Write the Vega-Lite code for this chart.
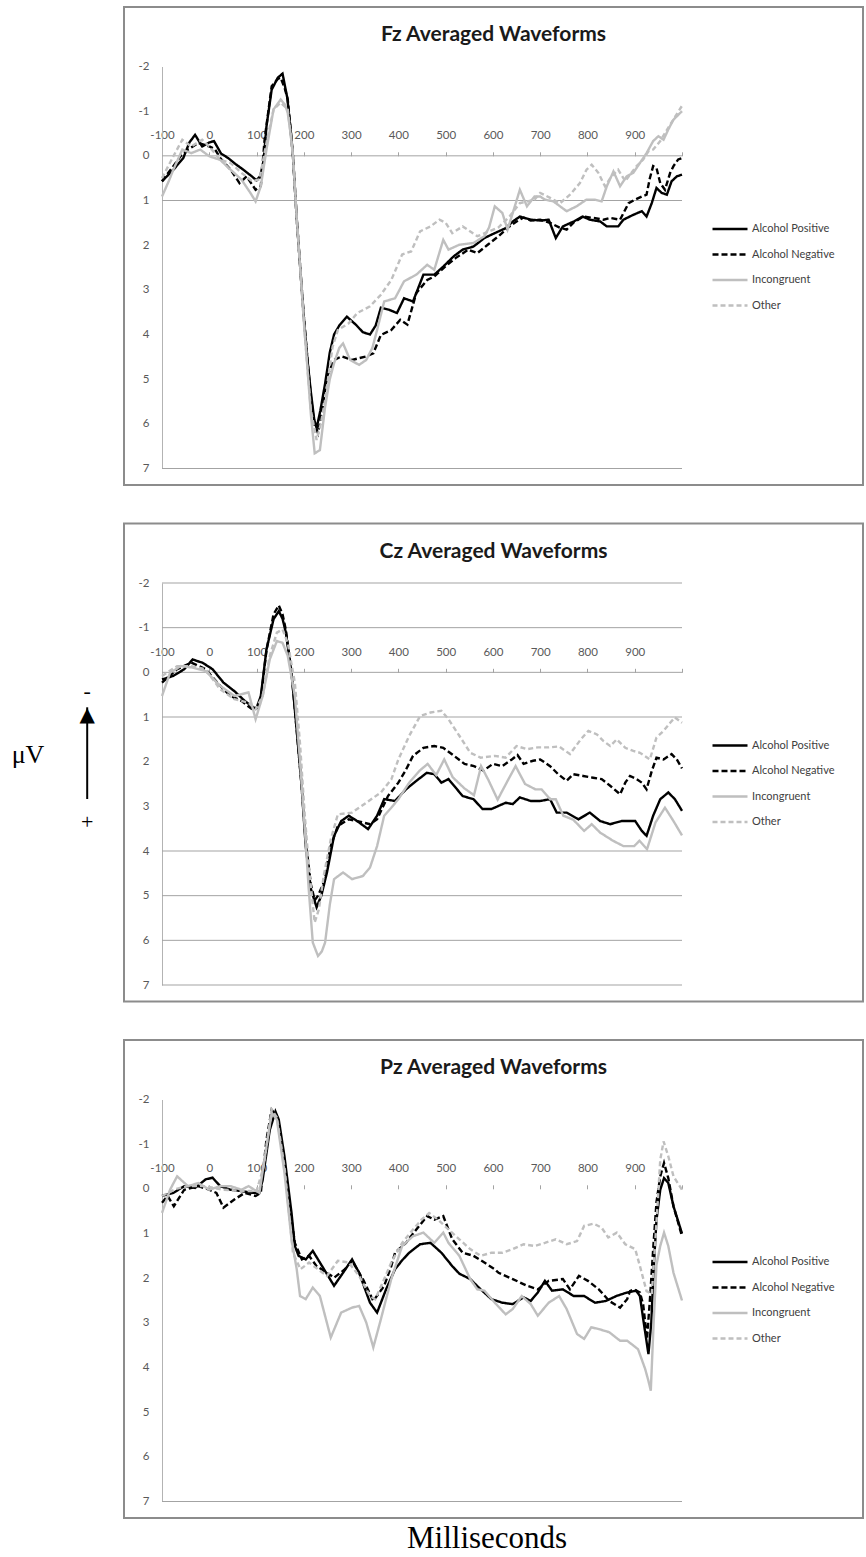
{
  "$schema": "https://vega.github.io/schema/vega-lite/v6.json",
  "background": "white",
  "padding": {"left": 10, "top": 6, "right": 0, "bottom": 0},
  "title": {"text": "Milliseconds", "orient": "bottom", "anchor": "middle", "dx": 50, "offset": 29, "baseline": "alphabetic", "font": "Liberation Serif", "fontSize": 31, "fontWeight": "normal", "color": "#000000"},
  "datasets": {
    "fzGrid": [{"uv": 0}, {"uv": 1}, {"uv": 7}],
    "czGrid": [{"uv": -2}, {"uv": -1}, {"uv": 0}, {"uv": 1}, {"uv": 4}, {"uv": 5}, {"uv": 6}, {"uv": 7}],
    "pzGrid": [{"uv": 7}],
    "arrow": [{"end": 0}, {"end": 1}],
    "fz": [
      {"condition":"Alcohol Positive","ms":-100,"uv":0.57},{"condition":"Alcohol Positive","ms":-75,"uv":0.3},{"condition":"Alcohol Positive","ms":-55,"uv":0.05},{"condition":"Alcohol Positive","ms":-42,"uv":-0.3},{"condition":"Alcohol Positive","ms":-30,"uv":-0.47},{"condition":"Alcohol Positive","ms":-15,"uv":-0.21},{"condition":"Alcohol Positive","ms":0,"uv":-0.3},{"condition":"Alcohol Positive","ms":10,"uv":-0.33},{"condition":"Alcohol Positive","ms":25,"uv":-0.05},{"condition":"Alcohol Positive","ms":40,"uv":0.05},{"condition":"Alcohol Positive","ms":55,"uv":0.18},{"condition":"Alcohol Positive","ms":72,"uv":0.31},{"condition":"Alcohol Positive","ms":90,"uv":0.46},{"condition":"Alcohol Positive","ms":100,"uv":0.55},{"condition":"Alcohol Positive","ms":108,"uv":0.45},{"condition":"Alcohol Positive","ms":115,"uv":0.1},{"condition":"Alcohol Positive","ms":121,"uv":-0.66},{"condition":"Alcohol Positive","ms":132,"uv":-1.48},{"condition":"Alcohol Positive","ms":145,"uv":-1.75},{"condition":"Alcohol Positive","ms":155,"uv":-1.84},{"condition":"Alcohol Positive","ms":165,"uv":-1.3},{"condition":"Alcohol Positive","ms":172,"uv":-0.6},{"condition":"Alcohol Positive","ms":177,"uv":0},{"condition":"Alcohol Positive","ms":185,"uv":1.4},{"condition":"Alcohol Positive","ms":193,"uv":2.6},{"condition":"Alcohol Positive","ms":200,"uv":3.6},{"condition":"Alcohol Positive","ms":208,"uv":4.6},{"condition":"Alcohol Positive","ms":215,"uv":5.3},{"condition":"Alcohol Positive","ms":222,"uv":5.9},{"condition":"Alcohol Positive","ms":227,"uv":6.1},{"condition":"Alcohol Positive","ms":235,"uv":5.7},{"condition":"Alcohol Positive","ms":245,"uv":5.1},{"condition":"Alcohol Positive","ms":255,"uv":4.4},{"condition":"Alcohol Positive","ms":264,"uv":4.0},{"condition":"Alcohol Positive","ms":275,"uv":3.8},{"condition":"Alcohol Positive","ms":291,"uv":3.6},{"condition":"Alcohol Positive","ms":310,"uv":3.78},{"condition":"Alcohol Positive","ms":325,"uv":3.95},{"condition":"Alcohol Positive","ms":340,"uv":4.0},{"condition":"Alcohol Positive","ms":352,"uv":3.8},{"condition":"Alcohol Positive","ms":363,"uv":3.4},{"condition":"Alcohol Positive","ms":381,"uv":3.45},{"condition":"Alcohol Positive","ms":397,"uv":3.52},{"condition":"Alcohol Positive","ms":412,"uv":3.19},{"condition":"Alcohol Positive","ms":431,"uv":3.26},{"condition":"Alcohol Positive","ms":453,"uv":2.66},{"condition":"Alcohol Positive","ms":476,"uv":2.66},{"condition":"Alcohol Positive","ms":495,"uv":2.48},{"condition":"Alcohol Positive","ms":517,"uv":2.25},{"condition":"Alcohol Positive","ms":536,"uv":2.1},{"condition":"Alcohol Positive","ms":559,"uv":2.03},{"condition":"Alcohol Positive","ms":582,"uv":1.84},{"condition":"Alcohol Positive","ms":604,"uv":1.73},{"condition":"Alcohol Positive","ms":627,"uv":1.62},{"condition":"Alcohol Positive","ms":642,"uv":1.47},{"condition":"Alcohol Positive","ms":657,"uv":1.36},{"condition":"Alcohol Positive","ms":680,"uv":1.43},{"condition":"Alcohol Positive","ms":703,"uv":1.45},{"condition":"Alcohol Positive","ms":718,"uv":1.43},{"condition":"Alcohol Positive","ms":733,"uv":1.84},{"condition":"Alcohol Positive","ms":748,"uv":1.58},{"condition":"Alcohol Positive","ms":771,"uv":1.47},{"condition":"Alcohol Positive","ms":790,"uv":1.36},{"condition":"Alcohol Positive","ms":805,"uv":1.43},{"condition":"Alcohol Positive","ms":827,"uv":1.47},{"condition":"Alcohol Positive","ms":841,"uv":1.58},{"condition":"Alcohol Positive","ms":865,"uv":1.58},{"condition":"Alcohol Positive","ms":876,"uv":1.43},{"condition":"Alcohol Positive","ms":897,"uv":1.32},{"condition":"Alcohol Positive","ms":915,"uv":1.24},{"condition":"Alcohol Positive","ms":925,"uv":1.36},{"condition":"Alcohol Positive","ms":936,"uv":1.06},{"condition":"Alcohol Positive","ms":946,"uv":0.72},{"condition":"Alcohol Positive","ms":957,"uv":0.83},{"condition":"Alcohol Positive","ms":968,"uv":0.87},{"condition":"Alcohol Positive","ms":978,"uv":0.57},{"condition":"Alcohol Positive","ms":989,"uv":0.46},{"condition":"Alcohol Positive","ms":1000,"uv":0.42},
      {"condition":"Alcohol Negative","ms":-100,"uv":0.57},{"condition":"Alcohol Negative","ms":-76,"uv":0.23},{"condition":"Alcohol Negative","ms":-60,"uv":0.0},{"condition":"Alcohol Negative","ms":-45,"uv":-0.14},{"condition":"Alcohol Negative","ms":-23,"uv":-0.29},{"condition":"Alcohol Negative","ms":0,"uv":-0.21},{"condition":"Alcohol Negative","ms":12,"uv":-0.15},{"condition":"Alcohol Negative","ms":23,"uv":0.05},{"condition":"Alcohol Negative","ms":45,"uv":0.31},{"condition":"Alcohol Negative","ms":64,"uv":0.61},{"condition":"Alcohol Negative","ms":79,"uv":0.46},{"condition":"Alcohol Negative","ms":98,"uv":0.76},{"condition":"Alcohol Negative","ms":109,"uv":0.68},{"condition":"Alcohol Negative","ms":117,"uv":-0.36},{"condition":"Alcohol Negative","ms":132,"uv":-1.56},{"condition":"Alcohol Negative","ms":145,"uv":-1.72},{"condition":"Alcohol Negative","ms":151,"uv":-1.75},{"condition":"Alcohol Negative","ms":160,"uv":-1.5},{"condition":"Alcohol Negative","ms":166,"uv":-1.26},{"condition":"Alcohol Negative","ms":172,"uv":-0.6},{"condition":"Alcohol Negative","ms":177,"uv":0},{"condition":"Alcohol Negative","ms":185,"uv":1.4},{"condition":"Alcohol Negative","ms":193,"uv":2.6},{"condition":"Alcohol Negative","ms":200,"uv":3.6},{"condition":"Alcohol Negative","ms":208,"uv":4.6},{"condition":"Alcohol Negative","ms":215,"uv":5.4},{"condition":"Alcohol Negative","ms":222,"uv":6.0},{"condition":"Alcohol Negative","ms":230,"uv":6.21},{"condition":"Alcohol Negative","ms":240,"uv":5.6},{"condition":"Alcohol Negative","ms":249,"uv":4.94},{"condition":"Alcohol Negative","ms":264,"uv":4.57},{"condition":"Alcohol Negative","ms":280,"uv":4.49},{"condition":"Alcohol Negative","ms":302,"uv":4.57},{"condition":"Alcohol Negative","ms":332,"uv":4.49},{"condition":"Alcohol Negative","ms":347,"uv":4.42},{"condition":"Alcohol Negative","ms":363,"uv":4.01},{"condition":"Alcohol Negative","ms":385,"uv":3.9},{"condition":"Alcohol Negative","ms":404,"uv":3.67},{"condition":"Alcohol Negative","ms":419,"uv":3.78},{"condition":"Alcohol Negative","ms":438,"uv":3.07},{"condition":"Alcohol Negative","ms":461,"uv":2.78},{"condition":"Alcohol Negative","ms":476,"uv":2.7},{"condition":"Alcohol Negative","ms":499,"uv":2.48},{"condition":"Alcohol Negative","ms":521,"uv":2.29},{"condition":"Alcohol Negative","ms":548,"uv":2.1},{"condition":"Alcohol Negative","ms":567,"uv":2.18},{"condition":"Alcohol Negative","ms":589,"uv":1.99},{"condition":"Alcohol Negative","ms":612,"uv":1.8},{"condition":"Alcohol Negative","ms":635,"uv":1.58},{"condition":"Alcohol Negative","ms":650,"uv":1.47},{"condition":"Alcohol Negative","ms":665,"uv":1.38},{"condition":"Alcohol Negative","ms":680,"uv":1.45},{"condition":"Alcohol Negative","ms":700,"uv":1.43},{"condition":"Alcohol Negative","ms":721,"uv":1.5},{"condition":"Alcohol Negative","ms":740,"uv":1.6},{"condition":"Alcohol Negative","ms":756,"uv":1.65},{"condition":"Alcohol Negative","ms":770,"uv":1.5},{"condition":"Alcohol Negative","ms":791,"uv":1.36},{"condition":"Alcohol Negative","ms":812,"uv":1.39},{"condition":"Alcohol Negative","ms":834,"uv":1.43},{"condition":"Alcohol Negative","ms":848,"uv":1.39},{"condition":"Alcohol Negative","ms":869,"uv":1.43},{"condition":"Alcohol Negative","ms":887,"uv":1.06},{"condition":"Alcohol Negative","ms":901,"uv":0.98},{"condition":"Alcohol Negative","ms":915,"uv":0.91},{"condition":"Alcohol Negative","ms":925,"uv":0.87},{"condition":"Alcohol Negative","ms":932,"uv":0.5},{"condition":"Alcohol Negative","ms":939,"uv":0.23},{"condition":"Alcohol Negative","ms":946,"uv":0.27},{"condition":"Alcohol Negative","ms":954,"uv":0.61},{"condition":"Alcohol Negative","ms":964,"uv":0.76},{"condition":"Alcohol Negative","ms":975,"uv":0.38},{"condition":"Alcohol Negative","ms":982,"uv":0.23},{"condition":"Alcohol Negative","ms":992,"uv":0.08},{"condition":"Alcohol Negative","ms":1000,"uv":0.05},
      {"condition":"Incongruent","ms":-100,"uv":0.91},{"condition":"Incongruent","ms":-85,"uv":0.55},{"condition":"Incongruent","ms":-76,"uv":0.31},{"condition":"Incongruent","ms":-57,"uv":-0.14},{"condition":"Incongruent","ms":-38,"uv":-0.06},{"condition":"Incongruent","ms":-19,"uv":-0.14},{"condition":"Incongruent","ms":0,"uv":0.01},{"condition":"Incongruent","ms":23,"uv":0.09},{"condition":"Incongruent","ms":45,"uv":0.31},{"condition":"Incongruent","ms":68,"uv":0.53},{"condition":"Incongruent","ms":87,"uv":0.83},{"condition":"Incongruent","ms":98,"uv":1.02},{"condition":"Incongruent","ms":109,"uv":0.68},{"condition":"Incongruent","ms":121,"uv":-0.14},{"condition":"Incongruent","ms":136,"uv":-1.04},{"condition":"Incongruent","ms":151,"uv":-1.26},{"condition":"Incongruent","ms":160,"uv":-1.15},{"condition":"Incongruent","ms":166,"uv":-0.96},{"condition":"Incongruent","ms":172,"uv":-0.5},{"condition":"Incongruent","ms":177,"uv":0},{"condition":"Incongruent","ms":185,"uv":1.4},{"condition":"Incongruent","ms":193,"uv":2.6},{"condition":"Incongruent","ms":200,"uv":3.7},{"condition":"Incongruent","ms":208,"uv":4.8},{"condition":"Incongruent","ms":215,"uv":5.8},{"condition":"Incongruent","ms":223,"uv":6.66},{"condition":"Incongruent","ms":234,"uv":6.59},{"condition":"Incongruent","ms":245,"uv":5.62},{"condition":"Incongruent","ms":255,"uv":5.0},{"condition":"Incongruent","ms":264,"uv":4.64},{"condition":"Incongruent","ms":275,"uv":4.3},{"condition":"Incongruent","ms":283,"uv":4.2},{"condition":"Incongruent","ms":298,"uv":4.57},{"condition":"Incongruent","ms":317,"uv":4.68},{"condition":"Incongruent","ms":332,"uv":4.57},{"condition":"Incongruent","ms":345,"uv":4.3},{"condition":"Incongruent","ms":355,"uv":3.9},{"condition":"Incongruent","ms":370,"uv":3.26},{"condition":"Incongruent","ms":393,"uv":3.19},{"condition":"Incongruent","ms":412,"uv":2.81},{"condition":"Incongruent","ms":438,"uv":2.66},{"condition":"Incongruent","ms":461,"uv":2.44},{"condition":"Incongruent","ms":476,"uv":2.55},{"condition":"Incongruent","ms":495,"uv":1.88},{"condition":"Incongruent","ms":506,"uv":2.1},{"condition":"Incongruent","ms":529,"uv":1.99},{"condition":"Incongruent","ms":559,"uv":1.95},{"condition":"Incongruent","ms":582,"uv":1.8},{"condition":"Incongruent","ms":592,"uv":1.6},{"condition":"Incongruent","ms":604,"uv":1.13},{"condition":"Incongruent","ms":620,"uv":1.28},{"condition":"Incongruent","ms":631,"uv":1.65},{"condition":"Incongruent","ms":642,"uv":1.28},{"condition":"Incongruent","ms":657,"uv":0.76},{"condition":"Incongruent","ms":672,"uv":1.13},{"condition":"Incongruent","ms":688,"uv":0.91},{"condition":"Incongruent","ms":700,"uv":0.91},{"condition":"Incongruent","ms":710,"uv":0.98},{"condition":"Incongruent","ms":728,"uv":1.02},{"condition":"Incongruent","ms":756,"uv":1.24},{"condition":"Incongruent","ms":777,"uv":1.13},{"condition":"Incongruent","ms":798,"uv":0.98},{"condition":"Incongruent","ms":816,"uv":0.98},{"condition":"Incongruent","ms":830,"uv":1.02},{"condition":"Incongruent","ms":841,"uv":0.68},{"condition":"Incongruent","ms":855,"uv":0.35},{"condition":"Incongruent","ms":869,"uv":0.68},{"condition":"Incongruent","ms":883,"uv":0.46},{"condition":"Incongruent","ms":897,"uv":0.38},{"condition":"Incongruent","ms":911,"uv":0.16},{"condition":"Incongruent","ms":925,"uv":-0.06},{"condition":"Incongruent","ms":939,"uv":-0.33},{"condition":"Incongruent","ms":950,"uv":-0.44},{"condition":"Incongruent","ms":961,"uv":-0.36},{"condition":"Incongruent","ms":971,"uv":-0.59},{"condition":"Incongruent","ms":982,"uv":-0.81},{"condition":"Incongruent","ms":1000,"uv":-1.0},
      {"condition":"Other","ms":-100,"uv":0.5},{"condition":"Other","ms":-76,"uv":0.01},{"condition":"Other","ms":-57,"uv":-0.36},{"condition":"Other","ms":-38,"uv":-0.21},{"condition":"Other","ms":-15,"uv":-0.36},{"condition":"Other","ms":0,"uv":-0.21},{"condition":"Other","ms":23,"uv":0.09},{"condition":"Other","ms":45,"uv":0.16},{"condition":"Other","ms":68,"uv":0.38},{"condition":"Other","ms":91,"uv":0.57},{"condition":"Other","ms":106,"uv":0.53},{"condition":"Other","ms":121,"uv":-0.29},{"condition":"Other","ms":136,"uv":-1.04},{"condition":"Other","ms":151,"uv":-1.19},{"condition":"Other","ms":166,"uv":-1.04},{"condition":"Other","ms":172,"uv":-0.5},{"condition":"Other","ms":177,"uv":0},{"condition":"Other","ms":185,"uv":1.4},{"condition":"Other","ms":193,"uv":2.6},{"condition":"Other","ms":200,"uv":3.7},{"condition":"Other","ms":208,"uv":4.8},{"condition":"Other","ms":215,"uv":5.7},{"condition":"Other","ms":227,"uv":6.36},{"condition":"Other","ms":236,"uv":6.0},{"condition":"Other","ms":245,"uv":5.47},{"condition":"Other","ms":261,"uv":4.27},{"condition":"Other","ms":272,"uv":3.9},{"condition":"Other","ms":295,"uv":3.75},{"condition":"Other","ms":313,"uv":3.52},{"condition":"Other","ms":340,"uv":3.37},{"condition":"Other","ms":363,"uv":3.11},{"condition":"Other","ms":385,"uv":2.78},{"condition":"Other","ms":408,"uv":2.21},{"condition":"Other","ms":427,"uv":2.14},{"condition":"Other","ms":446,"uv":1.69},{"condition":"Other","ms":468,"uv":1.58},{"condition":"Other","ms":487,"uv":1.43},{"condition":"Other","ms":500,"uv":1.5},{"condition":"Other","ms":514,"uv":1.73},{"condition":"Other","ms":536,"uv":1.58},{"condition":"Other","ms":567,"uv":1.8},{"condition":"Other","ms":590,"uv":1.7},{"condition":"Other","ms":612,"uv":1.6},{"condition":"Other","ms":635,"uv":1.36},{"condition":"Other","ms":657,"uv":1.06},{"condition":"Other","ms":688,"uv":0.98},{"condition":"Other","ms":700,"uv":0.83},{"condition":"Other","ms":721,"uv":0.94},{"condition":"Other","ms":742,"uv":1.06},{"condition":"Other","ms":763,"uv":0.87},{"condition":"Other","ms":784,"uv":0.61},{"condition":"Other","ms":798,"uv":0.31},{"condition":"Other","ms":809,"uv":0.2},{"condition":"Other","ms":823,"uv":0.38},{"condition":"Other","ms":837,"uv":0.68},{"condition":"Other","ms":851,"uv":0.46},{"condition":"Other","ms":865,"uv":0.31},{"condition":"Other","ms":880,"uv":0.57},{"condition":"Other","ms":890,"uv":0.42},{"condition":"Other","ms":904,"uv":0.23},{"condition":"Other","ms":918,"uv":0.08},{"condition":"Other","ms":929,"uv":-0.1},{"condition":"Other","ms":939,"uv":-0.14},{"condition":"Other","ms":954,"uv":-0.33},{"condition":"Other","ms":964,"uv":-0.51},{"condition":"Other","ms":975,"uv":-0.7},{"condition":"Other","ms":990,"uv":-0.95},{"condition":"Other","ms":1000,"uv":-1.12}
    ],
    "cz": [
      {"condition":"Alcohol Positive","ms":-100,"uv":0.16},{"condition":"Alcohol Positive","ms":-76,"uv":0.08},{"condition":"Alcohol Positive","ms":-53,"uv":-0.07},{"condition":"Alcohol Positive","ms":-35,"uv":-0.29},{"condition":"Alcohol Positive","ms":-25,"uv":-0.25},{"condition":"Alcohol Positive","ms":-15,"uv":-0.22},{"condition":"Alcohol Positive","ms":7,"uv":-0.07},{"condition":"Alcohol Positive","ms":30,"uv":0.23},{"condition":"Alcohol Positive","ms":53,"uv":0.42},{"condition":"Alcohol Positive","ms":75,"uv":0.64},{"condition":"Alcohol Positive","ms":94,"uv":0.79},{"condition":"Alcohol Positive","ms":100,"uv":0.8},{"condition":"Alcohol Positive","ms":109,"uv":0.53},{"condition":"Alcohol Positive","ms":121,"uv":-0.51},{"condition":"Alcohol Positive","ms":136,"uv":-1.19},{"condition":"Alcohol Positive","ms":147,"uv":-1.37},{"condition":"Alcohol Positive","ms":155,"uv":-1.2},{"condition":"Alcohol Positive","ms":162,"uv":-0.89},{"condition":"Alcohol Positive","ms":174,"uv":0.01},{"condition":"Alcohol Positive","ms":185,"uv":1.3},{"condition":"Alcohol Positive","ms":195,"uv":2.5},{"condition":"Alcohol Positive","ms":204,"uv":3.89},{"condition":"Alcohol Positive","ms":215,"uv":4.85},{"condition":"Alcohol Positive","ms":227,"uv":5.26},{"condition":"Alcohol Positive","ms":237,"uv":5.0},{"condition":"Alcohol Positive","ms":249,"uv":4.48},{"condition":"Alcohol Positive","ms":264,"uv":3.66},{"condition":"Alcohol Positive","ms":279,"uv":3.33},{"condition":"Alcohol Positive","ms":295,"uv":3.21},{"condition":"Alcohol Positive","ms":313,"uv":3.33},{"condition":"Alcohol Positive","ms":336,"uv":3.51},{"condition":"Alcohol Positive","ms":355,"uv":3.21},{"condition":"Alcohol Positive","ms":370,"uv":2.84},{"condition":"Alcohol Positive","ms":393,"uv":2.88},{"condition":"Alcohol Positive","ms":416,"uv":2.62},{"condition":"Alcohol Positive","ms":438,"uv":2.43},{"condition":"Alcohol Positive","ms":460,"uv":2.25},{"condition":"Alcohol Positive","ms":476,"uv":2.28},{"condition":"Alcohol Positive","ms":491,"uv":2.47},{"condition":"Alcohol Positive","ms":506,"uv":2.39},{"condition":"Alcohol Positive","ms":536,"uv":2.77},{"condition":"Alcohol Positive","ms":559,"uv":2.84},{"condition":"Alcohol Positive","ms":578,"uv":3.06},{"condition":"Alcohol Positive","ms":597,"uv":3.06},{"condition":"Alcohol Positive","ms":627,"uv":2.92},{"condition":"Alcohol Positive","ms":642,"uv":2.95},{"condition":"Alcohol Positive","ms":657,"uv":2.8},{"condition":"Alcohol Positive","ms":680,"uv":2.88},{"condition":"Alcohol Positive","ms":700,"uv":2.88},{"condition":"Alcohol Positive","ms":721,"uv":2.84},{"condition":"Alcohol Positive","ms":735,"uv":3.14},{"condition":"Alcohol Positive","ms":756,"uv":3.14},{"condition":"Alcohol Positive","ms":781,"uv":3.29},{"condition":"Alcohol Positive","ms":805,"uv":3.14},{"condition":"Alcohol Positive","ms":827,"uv":3.33},{"condition":"Alcohol Positive","ms":848,"uv":3.4},{"condition":"Alcohol Positive","ms":872,"uv":3.33},{"condition":"Alcohol Positive","ms":901,"uv":3.33},{"condition":"Alcohol Positive","ms":915,"uv":3.55},{"condition":"Alcohol Positive","ms":925,"uv":3.66},{"condition":"Alcohol Positive","ms":939,"uv":3.21},{"condition":"Alcohol Positive","ms":954,"uv":2.84},{"condition":"Alcohol Positive","ms":971,"uv":2.69},{"condition":"Alcohol Positive","ms":985,"uv":2.84},{"condition":"Alcohol Positive","ms":1000,"uv":3.1},
      {"condition":"Alcohol Negative","ms":-100,"uv":0.23},{"condition":"Alcohol Negative","ms":-68,"uv":-0.07},{"condition":"Alcohol Negative","ms":-38,"uv":-0.22},{"condition":"Alcohol Negative","ms":-8,"uv":-0.07},{"condition":"Alcohol Negative","ms":23,"uv":0.3},{"condition":"Alcohol Negative","ms":45,"uv":0.53},{"condition":"Alcohol Negative","ms":68,"uv":0.64},{"condition":"Alcohol Negative","ms":91,"uv":0.83},{"condition":"Alcohol Negative","ms":100,"uv":0.8},{"condition":"Alcohol Negative","ms":109,"uv":0.6},{"condition":"Alcohol Negative","ms":121,"uv":-0.5},{"condition":"Alcohol Negative","ms":136,"uv":-1.3},{"condition":"Alcohol Negative","ms":147,"uv":-1.5},{"condition":"Alcohol Negative","ms":155,"uv":-1.3},{"condition":"Alcohol Negative","ms":162,"uv":-0.95},{"condition":"Alcohol Negative","ms":174,"uv":0.0},{"condition":"Alcohol Negative","ms":185,"uv":1.3},{"condition":"Alcohol Negative","ms":195,"uv":2.5},{"condition":"Alcohol Negative","ms":204,"uv":3.8},{"condition":"Alcohol Negative","ms":215,"uv":4.75},{"condition":"Alcohol Negative","ms":223,"uv":5.1},{"condition":"Alcohol Negative","ms":230,"uv":5.0},{"condition":"Alcohol Negative","ms":242,"uv":4.71},{"condition":"Alcohol Negative","ms":257,"uv":3.89},{"condition":"Alcohol Negative","ms":272,"uv":3.44},{"condition":"Alcohol Negative","ms":295,"uv":3.29},{"condition":"Alcohol Negative","ms":313,"uv":3.33},{"condition":"Alcohol Negative","ms":340,"uv":3.4},{"condition":"Alcohol Negative","ms":355,"uv":3.29},{"condition":"Alcohol Negative","ms":378,"uv":2.77},{"condition":"Alcohol Negative","ms":400,"uv":2.47},{"condition":"Alcohol Negative","ms":415,"uv":2.2},{"condition":"Alcohol Negative","ms":431,"uv":1.87},{"condition":"Alcohol Negative","ms":453,"uv":1.69},{"condition":"Alcohol Negative","ms":476,"uv":1.65},{"condition":"Alcohol Negative","ms":495,"uv":1.69},{"condition":"Alcohol Negative","ms":518,"uv":1.87},{"condition":"Alcohol Negative","ms":540,"uv":2.05},{"condition":"Alcohol Negative","ms":560,"uv":2.1},{"condition":"Alcohol Negative","ms":580,"uv":2.2},{"condition":"Alcohol Negative","ms":600,"uv":2.05},{"condition":"Alcohol Negative","ms":620,"uv":2.1},{"condition":"Alcohol Negative","ms":640,"uv":1.95},{"condition":"Alcohol Negative","ms":652,"uv":1.85},{"condition":"Alcohol Negative","ms":665,"uv":2.05},{"condition":"Alcohol Negative","ms":685,"uv":1.98},{"condition":"Alcohol Negative","ms":700,"uv":1.95},{"condition":"Alcohol Negative","ms":721,"uv":2.1},{"condition":"Alcohol Negative","ms":738,"uv":2.28},{"condition":"Alcohol Negative","ms":756,"uv":2.43},{"condition":"Alcohol Negative","ms":770,"uv":2.28},{"condition":"Alcohol Negative","ms":791,"uv":2.32},{"condition":"Alcohol Negative","ms":812,"uv":2.36},{"condition":"Alcohol Negative","ms":830,"uv":2.39},{"condition":"Alcohol Negative","ms":848,"uv":2.54},{"condition":"Alcohol Negative","ms":869,"uv":2.73},{"condition":"Alcohol Negative","ms":880,"uv":2.47},{"condition":"Alcohol Negative","ms":890,"uv":2.32},{"condition":"Alcohol Negative","ms":904,"uv":2.39},{"condition":"Alcohol Negative","ms":915,"uv":2.47},{"condition":"Alcohol Negative","ms":925,"uv":2.62},{"condition":"Alcohol Negative","ms":936,"uv":2.21},{"condition":"Alcohol Negative","ms":946,"uv":1.91},{"condition":"Alcohol Negative","ms":961,"uv":1.95},{"condition":"Alcohol Negative","ms":978,"uv":1.83},{"condition":"Alcohol Negative","ms":989,"uv":1.95},{"condition":"Alcohol Negative","ms":1000,"uv":2.15},
      {"condition":"Incongruent","ms":-100,"uv":0.53},{"condition":"Incongruent","ms":-83,"uv":0.01},{"condition":"Incongruent","ms":-60,"uv":-0.14},{"condition":"Incongruent","ms":-38,"uv":-0.11},{"condition":"Incongruent","ms":-8,"uv":-0.03},{"condition":"Incongruent","ms":23,"uv":0.3},{"condition":"Incongruent","ms":53,"uv":0.53},{"condition":"Incongruent","ms":83,"uv":0.45},{"condition":"Incongruent","ms":98,"uv":1.05},{"condition":"Incongruent","ms":113,"uv":0.53},{"condition":"Incongruent","ms":128,"uv":-0.29},{"condition":"Incongruent","ms":143,"uv":-0.7},{"condition":"Incongruent","ms":155,"uv":-0.66},{"condition":"Incongruent","ms":166,"uv":-0.37},{"condition":"Incongruent","ms":181,"uv":0.53},{"condition":"Incongruent","ms":192,"uv":2.0},{"condition":"Incongruent","ms":202,"uv":3.5},{"condition":"Incongruent","ms":210,"uv":4.8},{"condition":"Incongruent","ms":219,"uv":6.05},{"condition":"Incongruent","ms":230,"uv":6.35},{"condition":"Incongruent","ms":238,"uv":6.25},{"condition":"Incongruent","ms":245,"uv":6.05},{"condition":"Incongruent","ms":255,"uv":5.2},{"condition":"Incongruent","ms":264,"uv":4.63},{"condition":"Incongruent","ms":283,"uv":4.48},{"condition":"Incongruent","ms":302,"uv":4.63},{"condition":"Incongruent","ms":325,"uv":4.56},{"condition":"Incongruent","ms":340,"uv":4.37},{"condition":"Incongruent","ms":355,"uv":3.89},{"condition":"Incongruent","ms":370,"uv":3.21},{"condition":"Incongruent","ms":385,"uv":3.03},{"condition":"Incongruent","ms":400,"uv":2.84},{"condition":"Incongruent","ms":423,"uv":2.47},{"condition":"Incongruent","ms":445,"uv":2.2},{"condition":"Incongruent","ms":462,"uv":2.05},{"condition":"Incongruent","ms":480,"uv":2.3},{"condition":"Incongruent","ms":497,"uv":1.95},{"condition":"Incongruent","ms":515,"uv":2.35},{"condition":"Incongruent","ms":540,"uv":2.6},{"condition":"Incongruent","ms":560,"uv":2.75},{"condition":"Incongruent","ms":575,"uv":2.1},{"condition":"Incongruent","ms":590,"uv":2.4},{"condition":"Incongruent","ms":610,"uv":2.85},{"condition":"Incongruent","ms":630,"uv":2.45},{"condition":"Incongruent","ms":648,"uv":2.1},{"condition":"Incongruent","ms":668,"uv":2.5},{"condition":"Incongruent","ms":690,"uv":2.62},{"condition":"Incongruent","ms":703,"uv":2.62},{"condition":"Incongruent","ms":721,"uv":2.84},{"condition":"Incongruent","ms":733,"uv":2.84},{"condition":"Incongruent","ms":749,"uv":3.21},{"condition":"Incongruent","ms":770,"uv":3.3},{"condition":"Incongruent","ms":793,"uv":3.55},{"condition":"Incongruent","ms":809,"uv":3.4},{"condition":"Incongruent","ms":827,"uv":3.59},{"condition":"Incongruent","ms":854,"uv":3.77},{"condition":"Incongruent","ms":876,"uv":3.89},{"condition":"Incongruent","ms":899,"uv":3.89},{"condition":"Incongruent","ms":910,"uv":3.77},{"condition":"Incongruent","ms":926,"uv":3.96},{"condition":"Incongruent","ms":944,"uv":3.36},{"condition":"Incongruent","ms":964,"uv":3.03},{"condition":"Incongruent","ms":982,"uv":3.33},{"condition":"Incongruent","ms":1000,"uv":3.65},
      {"condition":"Other","ms":-100,"uv":0.08},{"condition":"Other","ms":-68,"uv":-0.14},{"condition":"Other","ms":-38,"uv":-0.14},{"condition":"Other","ms":-8,"uv":-0.07},{"condition":"Other","ms":23,"uv":0.38},{"condition":"Other","ms":53,"uv":0.6},{"condition":"Other","ms":83,"uv":0.68},{"condition":"Other","ms":98,"uv":0.83},{"condition":"Other","ms":113,"uv":0.53},{"condition":"Other","ms":128,"uv":-0.37},{"condition":"Other","ms":143,"uv":-0.89},{"condition":"Other","ms":155,"uv":-0.96},{"condition":"Other","ms":166,"uv":-0.66},{"condition":"Other","ms":181,"uv":0.23},{"condition":"Other","ms":192,"uv":1.6},{"condition":"Other","ms":202,"uv":3.2},{"condition":"Other","ms":212,"uv":4.5},{"condition":"Other","ms":223,"uv":5.6},{"condition":"Other","ms":232,"uv":5.3},{"condition":"Other","ms":242,"uv":4.56},{"condition":"Other","ms":257,"uv":3.74},{"condition":"Other","ms":272,"uv":3.18},{"condition":"Other","ms":302,"uv":3.14},{"condition":"Other","ms":332,"uv":2.92},{"condition":"Other","ms":363,"uv":2.69},{"condition":"Other","ms":385,"uv":2.4},{"condition":"Other","ms":400,"uv":1.95},{"condition":"Other","ms":423,"uv":1.42},{"condition":"Other","ms":446,"uv":0.98},{"condition":"Other","ms":468,"uv":0.9},{"condition":"Other","ms":491,"uv":0.86},{"condition":"Other","ms":506,"uv":1.05},{"condition":"Other","ms":529,"uv":1.42},{"condition":"Other","ms":552,"uv":1.8},{"condition":"Other","ms":574,"uv":1.91},{"condition":"Other","ms":604,"uv":1.87},{"condition":"Other","ms":627,"uv":1.91},{"condition":"Other","ms":650,"uv":1.65},{"condition":"Other","ms":672,"uv":1.72},{"condition":"Other","ms":695,"uv":1.68},{"condition":"Other","ms":718,"uv":1.68},{"condition":"Other","ms":740,"uv":1.66},{"condition":"Other","ms":763,"uv":1.83},{"condition":"Other","ms":786,"uv":1.5},{"condition":"Other","ms":802,"uv":1.31},{"condition":"Other","ms":820,"uv":1.39},{"condition":"Other","ms":834,"uv":1.54},{"condition":"Other","ms":848,"uv":1.65},{"condition":"Other","ms":862,"uv":1.5},{"condition":"Other","ms":880,"uv":1.69},{"condition":"Other","ms":897,"uv":1.76},{"condition":"Other","ms":911,"uv":1.8},{"condition":"Other","ms":932,"uv":1.95},{"condition":"Other","ms":946,"uv":1.46},{"condition":"Other","ms":961,"uv":1.31},{"condition":"Other","ms":975,"uv":1.13},{"condition":"Other","ms":985,"uv":1.01},{"condition":"Other","ms":1000,"uv":1.13}
    ],
    "pz": [
      {"condition":"Alcohol Positive","ms":-100,"uv":0.16},{"condition":"Alcohol Positive","ms":-76,"uv":0.09},{"condition":"Alcohol Positive","ms":-53,"uv":-0.06},{"condition":"Alcohol Positive","ms":-30,"uv":-0.02},{"condition":"Alcohol Positive","ms":-8,"uv":-0.21},{"condition":"Alcohol Positive","ms":7,"uv":-0.25},{"condition":"Alcohol Positive","ms":23,"uv":-0.06},{"condition":"Alcohol Positive","ms":45,"uv":0.02},{"condition":"Alcohol Positive","ms":68,"uv":0.05},{"condition":"Alcohol Positive","ms":91,"uv":0.09},{"condition":"Alcohol Positive","ms":106,"uv":0.09},{"condition":"Alcohol Positive","ms":113,"uv":-0.21},{"condition":"Alcohol Positive","ms":128,"uv":-1.32},{"condition":"Alcohol Positive","ms":140,"uv":-1.73},{"condition":"Alcohol Positive","ms":147,"uv":-1.55},{"condition":"Alcohol Positive","ms":159,"uv":-0.73},{"condition":"Alcohol Positive","ms":174,"uv":0.54},{"condition":"Alcohol Positive","ms":181,"uv":1.28},{"condition":"Alcohol Positive","ms":189,"uv":1.5},{"condition":"Alcohol Positive","ms":204,"uv":1.58},{"condition":"Alcohol Positive","ms":219,"uv":1.39},{"condition":"Alcohol Positive","ms":230,"uv":1.58},{"condition":"Alcohol Positive","ms":249,"uv":1.91},{"condition":"Alcohol Positive","ms":264,"uv":2.17},{"condition":"Alcohol Positive","ms":283,"uv":1.88},{"condition":"Alcohol Positive","ms":302,"uv":1.58},{"condition":"Alcohol Positive","ms":317,"uv":1.88},{"condition":"Alcohol Positive","ms":340,"uv":2.55},{"condition":"Alcohol Positive","ms":355,"uv":2.77},{"condition":"Alcohol Positive","ms":374,"uv":2.25},{"condition":"Alcohol Positive","ms":393,"uv":1.8},{"condition":"Alcohol Positive","ms":408,"uv":1.6},{"condition":"Alcohol Positive","ms":423,"uv":1.43},{"condition":"Alcohol Positive","ms":446,"uv":1.24},{"condition":"Alcohol Positive","ms":468,"uv":1.21},{"condition":"Alcohol Positive","ms":491,"uv":1.43},{"condition":"Alcohol Positive","ms":514,"uv":1.73},{"condition":"Alcohol Positive","ms":529,"uv":1.9},{"condition":"Alcohol Positive","ms":552,"uv":2.02},{"condition":"Alcohol Positive","ms":574,"uv":2.25},{"condition":"Alcohol Positive","ms":597,"uv":2.47},{"condition":"Alcohol Positive","ms":620,"uv":2.55},{"condition":"Alcohol Positive","ms":642,"uv":2.58},{"condition":"Alcohol Positive","ms":665,"uv":2.43},{"condition":"Alcohol Positive","ms":680,"uv":2.51},{"condition":"Alcohol Positive","ms":695,"uv":2.32},{"condition":"Alcohol Positive","ms":710,"uv":2.06},{"condition":"Alcohol Positive","ms":725,"uv":2.28},{"condition":"Alcohol Positive","ms":748,"uv":2.25},{"condition":"Alcohol Positive","ms":771,"uv":2.4},{"condition":"Alcohol Positive","ms":793,"uv":2.4},{"condition":"Alcohol Positive","ms":816,"uv":2.55},{"condition":"Alcohol Positive","ms":839,"uv":2.51},{"condition":"Alcohol Positive","ms":861,"uv":2.4},{"condition":"Alcohol Positive","ms":884,"uv":2.32},{"condition":"Alcohol Positive","ms":903,"uv":2.28},{"condition":"Alcohol Positive","ms":911,"uv":2.4},{"condition":"Alcohol Positive","ms":918,"uv":2.92},{"condition":"Alcohol Positive","ms":929,"uv":3.7},{"condition":"Alcohol Positive","ms":935,"uv":3.0},{"condition":"Alcohol Positive","ms":940,"uv":1.8},{"condition":"Alcohol Positive","ms":946,"uv":0.7},{"condition":"Alcohol Positive","ms":954,"uv":0.02},{"condition":"Alcohol Positive","ms":962,"uv":-0.24},{"condition":"Alcohol Positive","ms":971,"uv":-0.13},{"condition":"Alcohol Positive","ms":982,"uv":0.39},{"condition":"Alcohol Positive","ms":1000,"uv":1.0},
      {"condition":"Alcohol Negative","ms":-100,"uv":0.31},{"condition":"Alcohol Negative","ms":-88,"uv":0.16},{"condition":"Alcohol Negative","ms":-75,"uv":0.39},{"condition":"Alcohol Negative","ms":-53,"uv":0.02},{"condition":"Alcohol Negative","ms":-23,"uv":-0.06},{"condition":"Alcohol Negative","ms":0,"uv":0.02},{"condition":"Alcohol Negative","ms":15,"uv":0.09},{"condition":"Alcohol Negative","ms":30,"uv":0.42},{"condition":"Alcohol Negative","ms":53,"uv":0.24},{"condition":"Alcohol Negative","ms":75,"uv":0.09},{"condition":"Alcohol Negative","ms":98,"uv":0.16},{"condition":"Alcohol Negative","ms":109,"uv":0.09},{"condition":"Alcohol Negative","ms":121,"uv":-1.1},{"condition":"Alcohol Negative","ms":132,"uv":-1.77},{"condition":"Alcohol Negative","ms":143,"uv":-1.62},{"condition":"Alcohol Negative","ms":155,"uv":-0.88},{"condition":"Alcohol Negative","ms":170,"uv":0.39},{"condition":"Alcohol Negative","ms":181,"uv":1.21},{"condition":"Alcohol Negative","ms":196,"uv":1.58},{"condition":"Alcohol Negative","ms":211,"uv":1.5},{"condition":"Alcohol Negative","ms":227,"uv":1.73},{"condition":"Alcohol Negative","ms":249,"uv":1.88},{"condition":"Alcohol Negative","ms":264,"uv":1.99},{"condition":"Alcohol Negative","ms":287,"uv":1.8},{"condition":"Alcohol Negative","ms":302,"uv":1.61},{"condition":"Alcohol Negative","ms":325,"uv":2.02},{"condition":"Alcohol Negative","ms":347,"uv":2.51},{"condition":"Alcohol Negative","ms":370,"uv":2.17},{"condition":"Alcohol Negative","ms":385,"uv":1.73},{"condition":"Alcohol Negative","ms":393,"uv":1.43},{"condition":"Alcohol Negative","ms":416,"uv":1.21},{"condition":"Alcohol Negative","ms":438,"uv":0.91},{"condition":"Alcohol Negative","ms":461,"uv":0.61},{"condition":"Alcohol Negative","ms":476,"uv":0.69},{"condition":"Alcohol Negative","ms":495,"uv":0.61},{"condition":"Alcohol Negative","ms":514,"uv":1.13},{"condition":"Alcohol Negative","ms":536,"uv":1.43},{"condition":"Alcohol Negative","ms":559,"uv":1.5},{"condition":"Alcohol Negative","ms":582,"uv":1.65},{"condition":"Alcohol Negative","ms":604,"uv":1.8},{"condition":"Alcohol Negative","ms":612,"uv":1.88},{"condition":"Alcohol Negative","ms":642,"uv":2.02},{"condition":"Alcohol Negative","ms":672,"uv":2.17},{"condition":"Alcohol Negative","ms":695,"uv":2.25},{"condition":"Alcohol Negative","ms":718,"uv":2.06},{"condition":"Alcohol Negative","ms":748,"uv":2.02},{"condition":"Alcohol Negative","ms":763,"uv":2.25},{"condition":"Alcohol Negative","ms":782,"uv":1.95},{"condition":"Alcohol Negative","ms":801,"uv":2.06},{"condition":"Alcohol Negative","ms":824,"uv":2.25},{"condition":"Alcohol Negative","ms":846,"uv":2.51},{"condition":"Alcohol Negative","ms":869,"uv":2.66},{"condition":"Alcohol Negative","ms":884,"uv":2.47},{"condition":"Alcohol Negative","ms":890,"uv":2.29},{"condition":"Alcohol Negative","ms":899,"uv":2.25},{"condition":"Alcohol Negative","ms":911,"uv":2.32},{"condition":"Alcohol Negative","ms":918,"uv":2.6},{"condition":"Alcohol Negative","ms":926,"uv":3.36},{"condition":"Alcohol Negative","ms":932,"uv":2.5},{"condition":"Alcohol Negative","ms":940,"uv":1.2},{"condition":"Alcohol Negative","ms":946,"uv":0.3},{"condition":"Alcohol Negative","ms":954,"uv":-0.28},{"condition":"Alcohol Negative","ms":962,"uv":-0.58},{"condition":"Alcohol Negative","ms":971,"uv":-0.24},{"condition":"Alcohol Negative","ms":982,"uv":0.39},{"condition":"Alcohol Negative","ms":1000,"uv":1.06},
      {"condition":"Incongruent","ms":-100,"uv":0.54},{"condition":"Incongruent","ms":-83,"uv":0.02},{"condition":"Incongruent","ms":-68,"uv":-0.28},{"condition":"Incongruent","ms":-45,"uv":-0.06},{"condition":"Incongruent","ms":-23,"uv":-0.13},{"condition":"Incongruent","ms":0,"uv":0.02},{"condition":"Incongruent","ms":23,"uv":-0.06},{"condition":"Incongruent","ms":45,"uv":-0.06},{"condition":"Incongruent","ms":68,"uv":0.02},{"condition":"Incongruent","ms":83,"uv":-0.06},{"condition":"Incongruent","ms":106,"uv":0.09},{"condition":"Incongruent","ms":121,"uv":-0.95},{"condition":"Incongruent","ms":132,"uv":-1.7},{"condition":"Incongruent","ms":143,"uv":-1.55},{"condition":"Incongruent","ms":159,"uv":-0.36},{"condition":"Incongruent","ms":174,"uv":1.13},{"condition":"Incongruent","ms":185,"uv":1.8},{"condition":"Incongruent","ms":192,"uv":2.4},{"condition":"Incongruent","ms":204,"uv":2.47},{"condition":"Incongruent","ms":219,"uv":2.21},{"condition":"Incongruent","ms":234,"uv":2.4},{"condition":"Incongruent","ms":257,"uv":3.33},{"condition":"Incongruent","ms":279,"uv":2.77},{"condition":"Incongruent","ms":302,"uv":2.66},{"condition":"Incongruent","ms":317,"uv":2.62},{"condition":"Incongruent","ms":332,"uv":2.99},{"condition":"Incongruent","ms":347,"uv":3.55},{"condition":"Incongruent","ms":363,"uv":2.92},{"condition":"Incongruent","ms":385,"uv":2.02},{"condition":"Incongruent","ms":408,"uv":1.28},{"condition":"Incongruent","ms":431,"uv":1.06},{"condition":"Incongruent","ms":453,"uv":0.98},{"condition":"Incongruent","ms":476,"uv":1.21},{"condition":"Incongruent","ms":495,"uv":0.98},{"condition":"Incongruent","ms":506,"uv":1.21},{"condition":"Incongruent","ms":529,"uv":1.5},{"condition":"Incongruent","ms":552,"uv":2.02},{"condition":"Incongruent","ms":567,"uv":2.25},{"condition":"Incongruent","ms":582,"uv":2.28},{"condition":"Incongruent","ms":604,"uv":2.55},{"condition":"Incongruent","ms":627,"uv":2.81},{"condition":"Incongruent","ms":642,"uv":2.69},{"condition":"Incongruent","ms":661,"uv":2.4},{"condition":"Incongruent","ms":680,"uv":2.58},{"condition":"Incongruent","ms":695,"uv":2.84},{"condition":"Incongruent","ms":718,"uv":2.55},{"condition":"Incongruent","ms":740,"uv":2.4},{"condition":"Incongruent","ms":756,"uv":2.69},{"condition":"Incongruent","ms":778,"uv":3.25},{"condition":"Incongruent","ms":793,"uv":3.36},{"condition":"Incongruent","ms":808,"uv":3.1},{"condition":"Incongruent","ms":824,"uv":3.14},{"condition":"Incongruent","ms":846,"uv":3.21},{"condition":"Incongruent","ms":869,"uv":3.4},{"condition":"Incongruent","ms":884,"uv":3.4},{"condition":"Incongruent","ms":907,"uv":3.59},{"condition":"Incongruent","ms":922,"uv":4.03},{"condition":"Incongruent","ms":929,"uv":4.3},{"condition":"Incongruent","ms":934,"uv":4.52},{"condition":"Incongruent","ms":940,"uv":3.0},{"condition":"Incongruent","ms":946,"uv":1.7},{"condition":"Incongruent","ms":954,"uv":1.28},{"condition":"Incongruent","ms":962,"uv":0.98},{"condition":"Incongruent","ms":971,"uv":1.28},{"condition":"Incongruent","ms":982,"uv":1.88},{"condition":"Incongruent","ms":1000,"uv":2.5},
      {"condition":"Other","ms":-100,"uv":0.16},{"condition":"Other","ms":-70,"uv":0.0},{"condition":"Other","ms":-45,"uv":-0.06},{"condition":"Other","ms":-10,"uv":-0.06},{"condition":"Other","ms":30,"uv":0.02},{"condition":"Other","ms":75,"uv":0.05},{"condition":"Other","ms":100,"uv":0.05},{"condition":"Other","ms":115,"uv":-0.5},{"condition":"Other","ms":132,"uv":-1.77},{"condition":"Other","ms":143,"uv":-1.6},{"condition":"Other","ms":159,"uv":-0.5},{"condition":"Other","ms":177,"uv":1.43},{"condition":"Other","ms":193,"uv":1.8},{"condition":"Other","ms":211,"uv":1.65},{"condition":"Other","ms":230,"uv":1.8},{"condition":"Other","ms":249,"uv":1.95},{"condition":"Other","ms":272,"uv":1.61},{"condition":"Other","ms":295,"uv":1.65},{"condition":"Other","ms":317,"uv":1.95},{"condition":"Other","ms":340,"uv":2.4},{"condition":"Other","ms":351,"uv":2.47},{"condition":"Other","ms":370,"uv":2.02},{"condition":"Other","ms":385,"uv":1.65},{"condition":"Other","ms":408,"uv":1.21},{"condition":"Other","ms":431,"uv":0.91},{"condition":"Other","ms":449,"uv":0.69},{"condition":"Other","ms":465,"uv":0.54},{"condition":"Other","ms":484,"uv":0.69},{"condition":"Other","ms":506,"uv":0.91},{"condition":"Other","ms":529,"uv":1.13},{"condition":"Other","ms":552,"uv":1.35},{"condition":"Other","ms":574,"uv":1.5},{"condition":"Other","ms":597,"uv":1.43},{"condition":"Other","ms":620,"uv":1.43},{"condition":"Other","ms":642,"uv":1.35},{"condition":"Other","ms":665,"uv":1.24},{"condition":"Other","ms":688,"uv":1.28},{"condition":"Other","ms":710,"uv":1.21},{"condition":"Other","ms":733,"uv":1.13},{"condition":"Other","ms":756,"uv":1.24},{"condition":"Other","ms":778,"uv":1.17},{"condition":"Other","ms":793,"uv":0.83},{"condition":"Other","ms":813,"uv":0.78},{"condition":"Other","ms":830,"uv":0.87},{"condition":"Other","ms":844,"uv":1.09},{"condition":"Other","ms":862,"uv":0.98},{"condition":"Other","ms":880,"uv":1.24},{"condition":"Other","ms":901,"uv":1.35},{"condition":"Other","ms":911,"uv":1.73},{"condition":"Other","ms":925,"uv":2.29},{"condition":"Other","ms":936,"uv":2.36},{"condition":"Other","ms":943,"uv":1.28},{"condition":"Other","ms":954,"uv":-0.65},{"condition":"Other","ms":961,"uv":-1.06},{"condition":"Other","ms":971,"uv":-0.73},{"condition":"Other","ms":982,"uv":-0.28},{"condition":"Other","ms":1000,"uv":0.02}
    ]
  },
  "spacing": 36.5,
  "resolve": {"scale": {"color": "independent", "strokeDash": "independent"}, "legend": {"color": "independent", "strokeDash": "independent"}},
  "vconcat": [
    {
      "width": 739, "height": 478,
      "title": {"text": "Fz Averaged Waveforms", "frame": "group", "anchor": "middle", "offset": -55, "baseline": "alphabetic"},
      "layer": [
        {
          "data": {"name": "fzGrid"},
          "mark": {"type": "rule", "color": "#a3a3a3", "strokeWidth": 1},
          "encoding": {
            "y": {"field": "uv", "type": "quantitative", "scale": {"domain": [-2, 7], "range": [59.5, 461.5], "nice": false, "zero": false},
                  "axis": {"orient": "left", "offset": -38, "values": [-2, -1, 0, 1, 2, 3, 4, 5, 6, 7], "labelExpr": "'' + datum.value", "domain": true, "domainColor": "#b3b3b3", "domainWidth": 1, "ticks": false, "grid": false, "labelPadding": 13, "labelOverlap": false, "labelFlush": false, "title": null}},
            "x": {"datum": -100, "type": "quantitative", "scale": {"domain": [-100, 1000], "range": [38, 558], "nice": false, "zero": false},
                  "axis": {"orient": "top", "offset": -148.8, "values": [-100, 0, 100, 200, 300, 400, 500, 600, 700, 800, 900, 1000], "labelExpr": "datum.value >= 1000 ? '' : '' + datum.value", "domain": false, "grid": false, "ticks": true, "tickSize": 4, "tickColor": "#a3a3a3", "labelPadding": 13, "labelBaseline": "alphabetic", "labelFlush": false, "labelOverlap": false, "title": null}},
            "x2": {"datum": 1000}
          }
        },
        {
          "data": {"name": "fz"},
          "mark": {"type": "line", "strokeWidth": 2.4},
          "encoding": {
            "x": {"field": "ms", "type": "quantitative", "scale": {"domain": [-100, 1000], "range": [38, 558], "nice": false, "zero": false},
                  "axis": {"orient": "top", "offset": -148.8, "values": [-100, 0, 100, 200, 300, 400, 500, 600, 700, 800, 900, 1000], "labelExpr": "datum.value >= 1000 ? '' : '' + datum.value", "domain": false, "grid": false, "ticks": true, "tickSize": 4, "tickColor": "#a3a3a3", "labelPadding": 13, "labelBaseline": "alphabetic", "labelFlush": false, "labelOverlap": false, "title": null}},
            "y": {"field": "uv", "type": "quantitative", "scale": {"domain": [-2, 7], "range": [59.5, 461.5], "nice": false, "zero": false},
                  "axis": {"orient": "left", "offset": -38, "values": [-2, -1, 0, 1, 2, 3, 4, 5, 6, 7], "labelExpr": "'' + datum.value", "domain": true, "domainColor": "#b3b3b3", "domainWidth": 1, "ticks": false, "grid": false, "labelPadding": 13, "labelOverlap": false, "labelFlush": false, "title": null}},
            "color": {"field": "condition", "type": "nominal", "scale": {"domain": ["Alcohol Positive", "Alcohol Negative", "Incongruent", "Other"], "range": ["#000000", "#000000", "#bfbfbf", "#bfbfbf"]}, "legend": {"title": null}},
            "strokeDash": {"field": "condition", "type": "nominal", "scale": {"domain": ["Alcohol Positive", "Alcohol Negative", "Incongruent", "Other"], "range": [[1, 0], [6, 3], [1, 0], [5, 3]]}, "legend": {"title": null}}
          }
        }
      ]
    },
    {
      "width": 739, "height": 478,
      "title": {"text": "Cz Averaged Waveforms", "frame": "group", "anchor": "middle", "offset": -55, "baseline": "alphabetic"},
      "resolve": {"scale": {"y": "independent"}, "axis": {"y": "independent"}},
      "layer": [
        {
          "data": {"name": "czGrid"},
          "mark": {"type": "rule", "color": "#a3a3a3", "strokeWidth": 1},
          "encoding": {
            "y": {"field": "uv", "type": "quantitative", "scale": {"domain": [-2, 7], "range": [59.5, 461.5], "nice": false, "zero": false},
                  "axis": {"orient": "left", "offset": 37.3, "values": [0.41, 3.333], "labelExpr": "datum.value < 1 ? '-' : '+'",
                           "domain": false, "ticks": false, "grid": false, "labelAlign": "center", "labelBaseline": "middle", "labelPadding": 0,
                           "labelColor": "#000000", "labelFont": "Liberation Serif", "labelFontSize": 22, "labelOverlap": false, "labelFlush": false, "title": null}},
            "x": {"datum": -100, "type": "quantitative", "scale": {"domain": [-100, 1000], "range": [38, 558], "nice": false, "zero": false},
                  "axis": {"orient": "top", "offset": -148.8, "values": [-100, 0, 100, 200, 300, 400, 500, 600, 700, 800, 900, 1000], "labelExpr": "datum.value >= 1000 ? '' : '' + datum.value", "domain": false, "grid": false, "ticks": true, "tickSize": 4, "tickColor": "#a3a3a3", "labelPadding": 13, "labelBaseline": "alphabetic", "labelFlush": false, "labelOverlap": false, "title": null}},
            "x2": {"datum": 1000}
          }
        },
        {
          "data": {"name": "cz"},
          "mark": {"type": "line", "strokeWidth": 2.4},
          "encoding": {
            "x": {"field": "ms", "type": "quantitative", "scale": {"domain": [-100, 1000], "range": [38, 558], "nice": false, "zero": false},
                  "axis": {"orient": "top", "offset": -148.8, "values": [-100, 0, 100, 200, 300, 400, 500, 600, 700, 800, 900, 1000], "labelExpr": "datum.value >= 1000 ? '' : '' + datum.value", "domain": false, "grid": false, "ticks": true, "tickSize": 4, "tickColor": "#a3a3a3", "labelPadding": 13, "labelBaseline": "alphabetic", "labelFlush": false, "labelOverlap": false, "title": null}},
            "y": {"field": "uv", "type": "quantitative", "scale": {"domain": [-2, 7], "range": [59.5, 461.5], "nice": false, "zero": false},
                  "axis": {"orient": "left", "offset": -38, "values": [-2, -1, 0, 1, 2, 3, 4, 5, 6, 7], "labelExpr": "'' + datum.value", "domain": true, "domainColor": "#b3b3b3", "domainWidth": 1, "ticks": false, "grid": false, "labelPadding": 13, "labelOverlap": false, "labelFlush": false, "title": null}},
            "color": {"field": "condition", "type": "nominal", "scale": {"domain": ["Alcohol Positive", "Alcohol Negative", "Incongruent", "Other"], "range": ["#000000", "#000000", "#bfbfbf", "#bfbfbf"]}, "legend": {"title": null}},
            "strokeDash": {"field": "condition", "type": "nominal", "scale": {"domain": ["Alcohol Positive", "Alcohol Negative", "Incongruent", "Other"], "range": [[1, 0], [6, 3], [1, 0], [5, 3]]}, "legend": {"title": null}}
          }
        },
        {
          "data": {"name": "arrow"},
          "mark": {"type": "rule", "strokeOpacity": 0},
          "encoding": {
            "y": {"field": "end", "type": "quantitative", "scale": {"domain": [0, 1], "range": [183.3, 275], "nice": false, "zero": false},
                  "axis": {"orient": "left", "offset": 37.3, "values": [0.082],
                           "labelExpr": "'▲'",
                           "domain": true, "domainColor": "#000000", "domainWidth": 2, "ticks": false, "grid": false,
                           "labelAlign": "center", "labelBaseline": "middle", "labelPadding": 0, "labelColor": "#000000",
                           "labelFont": "DejaVu Sans", "labelFontSize": 20,
                           "labelOverlap": false, "labelFlush": false, "labelBound": false,
                           "title": "μV", "titleAngle": 0, "titleX": -59.2, "titleY": 231, "titleAlign": "center", "titleBaseline": "middle",
                           "titleFont": "Liberation Serif", "titleFontSize": 26, "titleFontWeight": "normal", "titleColor": "#000000"}}
          }
        }
      ]
    },
    {
      "width": 739, "height": 478,
      "title": {"text": "Pz Averaged Waveforms", "frame": "group", "anchor": "middle", "offset": -55, "baseline": "alphabetic"},
      "layer": [
        {
          "data": {"name": "pzGrid"},
          "mark": {"type": "rule", "color": "#a3a3a3", "strokeWidth": 1},
          "encoding": {
            "y": {"field": "uv", "type": "quantitative", "scale": {"domain": [-2, 7], "range": [59.5, 461.5], "nice": false, "zero": false},
                  "axis": {"orient": "left", "offset": -38, "values": [-2, -1, 0, 1, 2, 3, 4, 5, 6, 7], "labelExpr": "'' + datum.value", "domain": true, "domainColor": "#b3b3b3", "domainWidth": 1, "ticks": false, "grid": false, "labelPadding": 13, "labelOverlap": false, "labelFlush": false, "title": null}},
            "x": {"datum": -100, "type": "quantitative", "scale": {"domain": [-100, 1000], "range": [38, 558], "nice": false, "zero": false},
                  "axis": {"orient": "top", "offset": -148.8, "values": [-100, 0, 100, 200, 300, 400, 500, 600, 700, 800, 900, 1000], "labelExpr": "datum.value >= 1000 ? '' : '' + datum.value", "domain": false, "grid": false, "ticks": true, "tickSize": 4, "tickColor": "#a3a3a3", "labelPadding": 13, "labelBaseline": "alphabetic", "labelFlush": false, "labelOverlap": false, "title": null}},
            "x2": {"datum": 1000}
          }
        },
        {
          "data": {"name": "pz"},
          "mark": {"type": "line", "strokeWidth": 2.4},
          "encoding": {
            "x": {"field": "ms", "type": "quantitative", "scale": {"domain": [-100, 1000], "range": [38, 558], "nice": false, "zero": false},
                  "axis": {"orient": "top", "offset": -148.8, "values": [-100, 0, 100, 200, 300, 400, 500, 600, 700, 800, 900, 1000], "labelExpr": "datum.value >= 1000 ? '' : '' + datum.value", "domain": false, "grid": false, "ticks": true, "tickSize": 4, "tickColor": "#a3a3a3", "labelPadding": 13, "labelBaseline": "alphabetic", "labelFlush": false, "labelOverlap": false, "title": null}},
            "y": {"field": "uv", "type": "quantitative", "scale": {"domain": [-2, 7], "range": [59.5, 461.5], "nice": false, "zero": false},
                  "axis": {"orient": "left", "offset": -38, "values": [-2, -1, 0, 1, 2, 3, 4, 5, 6, 7], "labelExpr": "'' + datum.value", "domain": true, "domainColor": "#b3b3b3", "domainWidth": 1, "ticks": false, "grid": false, "labelPadding": 13, "labelOverlap": false, "labelFlush": false, "title": null}},
            "color": {"field": "condition", "type": "nominal", "scale": {"domain": ["Alcohol Positive", "Alcohol Negative", "Incongruent", "Other"], "range": ["#000000", "#000000", "#bfbfbf", "#bfbfbf"]}, "legend": {"title": null}},
            "strokeDash": {"field": "condition", "type": "nominal", "scale": {"domain": ["Alcohol Positive", "Alcohol Negative", "Incongruent", "Other"], "range": [[1, 0], [6, 3], [1, 0], [5, 3]]}, "legend": {"title": null}}
          }
        }
      ]
    }
  ],
  "config": {
    "view": {"stroke": "#8c8c8c", "strokeWidth": 2},
    "font": "Lato",
    "title": {"font": "Lato", "fontSize": 21, "fontWeight": "bold", "color": "#1a1a1a"},
    "axis": {"labelFont": "Lato", "labelFontSize": 11.5, "labelColor": "#595959"},
    "legend": {"orient": "none", "legendX": 587, "legendY": 203, "symbolType": "stroke", "symbolSize": 1225, "symbolStrokeWidth": 2.4, "labelFont": "Lato", "labelFontSize": 11, "labelColor": "#404040", "labelOffset": 3, "rowPadding": 1.5, "padding": 0}
  }
}
